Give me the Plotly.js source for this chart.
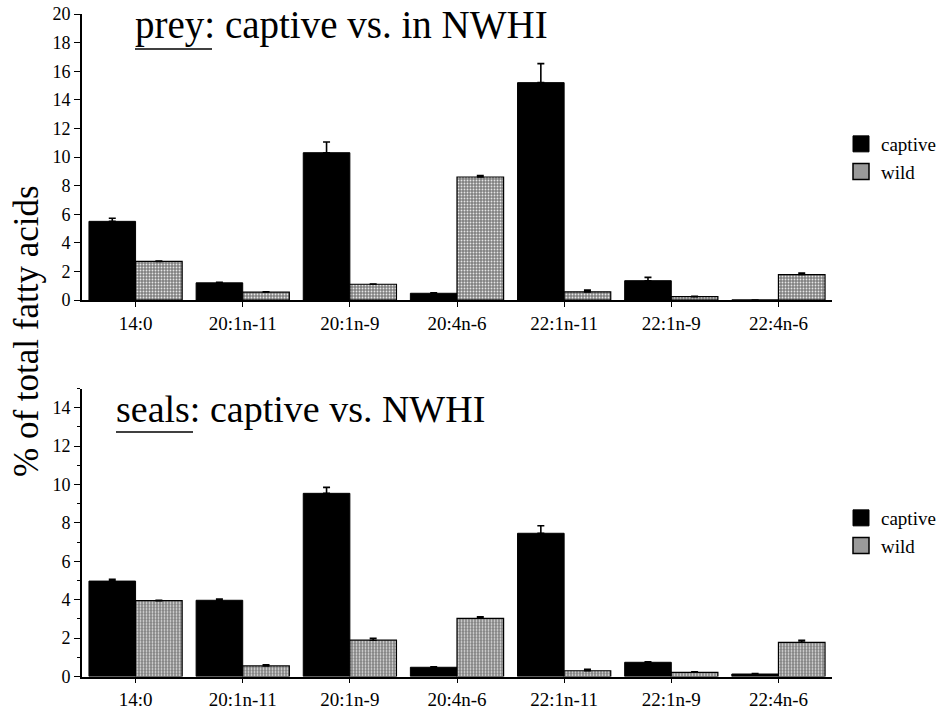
<!DOCTYPE html>
<html>
<head>
<meta charset="utf-8">
<script src="https://cdn.plot.ly/plotly-3.0.1.min.js"></script>
<style>
  html, body { margin: 0; padding: 0; background: #fff; }
  #chart { width: 938px; height: 711px; }
</style>
</head>
<body>
<div id="chart"></div>
<script>
// Fatty acid categories shown on both panels
const acids = ['14:0', '20:1n-11', '20:1n-9', '20:4n-6', '22:1n-11', '22:1n-9', '22:4n-6'];

// Prey: % of total fatty acids (mean and SE)
const preyCaptive    = [5.5, 1.2, 10.3, 0.47, 15.2, 1.35, 0];
const preyCaptiveErr = [0.22, 0.03, 0.75, 0.03, 1.33, 0.23, 0];
const preyWild       = [2.7, 0.55, 1.1, 8.6, 0.57, 0.23, 1.78];
const preyWildErr    = [0.02, 0.02, 0.02, 0.1, 0.12, 0.03, 0.1];

// Seals: % of total fatty acids (mean and SE)
const sealCaptive    = [4.97, 3.97, 9.54, 0.48, 7.46, 0.74, 0.13];
const sealCaptiveErr = [0.09, 0.07, 0.31, 0.02, 0.39, 0.02, 0.02];
const sealWild       = [3.95, 0.55, 1.89, 3.03, 0.3, 0.22, 1.78];
const sealWildErr    = [0.02, 0.06, 0.1, 0.08, 0.07, 0.02, 0.1];

const SERIF = '"Liberation Serif", "Times New Roman", Times, serif';
const W = 938, H = 711;
const px = v => v / W;          // horizontal pixel -> paper
const py = v => 1 - v / H;      // vertical pixel -> paper

const captiveMarker = { color: '#000000', line: { color: '#000000', width: 1 } };
// grey stipple: mid-grey base with fine light dots laid over it
const wildMarker = {
  color: '#808080',
  line: { color: '#000000', width: 1.2 },
  pattern: { shape: '.', fillmode: 'overlay', fgcolor: '#ffffff', fgopacity: 0.8, size: 3, solidity: 0.3 }
};
const errStyle = (arr) => ({
  type: 'data', array: arr, symmetric: false,
  arrayminus: arr.map(() => 0),
  color: '#000000', thickness: 1.6, width: 3.5
});

function barPair(cap, capErr, wild, wildErr, xa, ya) {
  return [
    { type: 'bar', name: 'captive', x: acids, y: cap, error_y: errStyle(capErr),
      marker: captiveMarker, xaxis: xa, yaxis: ya, showlegend: false },
    { type: 'bar', name: 'wild', x: acids, y: wild, error_y: errStyle(wildErr),
      marker: wildMarker, xaxis: xa, yaxis: ya, showlegend: false }
  ];
}

// Legend swatches (one legend per panel)
function legendEntries(legendId, xa, ya) {
  return [
    { type: 'scatter', mode: 'markers', name: 'captive', x: [null], y: [null],
      xaxis: xa, yaxis: ya, legend: legendId,
      marker: { symbol: 'square', size: 16, color: '#000000', line: { color: '#000000', width: 1 } } },
    { type: 'scatter', mode: 'markers', name: 'wild', x: [null], y: [null],
      xaxis: xa, yaxis: ya, legend: legendId,
      marker: { symbol: 'square', size: 16, color: '#9a9a9a', line: { color: '#000000', width: 1.5 } } }
  ];
}

const data = [
  ...barPair(preyCaptive, preyCaptiveErr, preyWild, preyWildErr, 'x', 'y'),
  ...barPair(sealCaptive, sealCaptiveErr, sealWild, sealWildErr, 'x2', 'y2'),
  ...legendEntries('legend', 'x', 'y'),
  ...legendEntries('legend2', 'x2', 'y2')
];

const xBase = {
  type: 'category', categoryorder: 'array', categoryarray: acids,
  range: [-0.5, 6.5], domain: [px(82), px(832)],
  showline: true, linecolor: '#000', linewidth: 1.6, mirror: false,
  ticks: 'outside', ticklen: 5, tickwidth: 1.2, tickcolor: '#000',
  showgrid: false, zeroline: false, fixedrange: true,
  tickfont: { family: SERIF, size: 19, color: '#000' }
};
const yBase = {
  showline: true, linecolor: '#000', linewidth: 2,
  ticks: 'outside', ticklen: 6, tickwidth: 1.2, tickcolor: '#000',
  showgrid: false, zeroline: false, fixedrange: true,
  tickfont: { family: SERIF, size: 18, color: '#000' }
};

const legendBase = {
  font: { family: SERIF, size: 19, color: '#000' },
  bgcolor: 'rgba(0,0,0,0)', borderwidth: 0,
  xanchor: 'left', yanchor: 'top', itemsizing: 'trace',
  tracegroupgap: 0, itemclick: false, itemdoubleclick: false
};

const layout = {
  width: W, height: H,
  margin: { l: 0, r: 0, t: 0, b: 0, autoexpand: false },
  paper_bgcolor: '#ffffff', plot_bgcolor: 'rgba(0,0,0,0)',
  barmode: 'group', bargap: 0.13, bargroupgap: 0,
  font: { family: SERIF, color: '#000' },
  xaxis:  { ...xBase, anchor: 'y' },
  xaxis2: { ...xBase, anchor: 'y2' },
  yaxis:  { ...yBase, anchor: 'x', domain: [py(300), py(14)], range: [0, 20], dtick: 2 },
  yaxis2: { ...yBase, anchor: 'x2', domain: [py(676.5), py(388.5)], range: [0, 15], dtick: 2,
            minor: { ticks: 'outside', dtick: 1, ticklen: 3, tickcolor: '#000', tickwidth: 1 } },
  legend:  { ...legendBase, x: px(841), y: py(125) },
  legend2: { ...legendBase, x: px(841), y: py(499) },
  annotations: [
    { text: '% of total fatty acids', textangle: -90, xref: 'paper', yref: 'paper',
      x: px(27), y: py(331), xanchor: 'center', yanchor: 'middle', showarrow: false,
      font: { family: SERIF, size: 35, color: '#000' } },
    { text: 'prey: captive vs. in NWHI', xref: 'paper', yref: 'paper',
      x: px(133), y: py(25), xanchor: 'left', yanchor: 'middle', showarrow: false,
      font: { family: SERIF, size: 39, color: '#000' } },
    { text: 'seals: captive vs. NWHI', xref: 'paper', yref: 'paper',
      x: px(114), y: py(409), xanchor: 'left', yanchor: 'middle', showarrow: false,
      font: { family: SERIF, size: 38, color: '#000' } }
  ],
  shapes: [
    // underlines under the panel names
    { type: 'line', xref: 'paper', yref: 'paper', x0: px(135), x1: px(212), y0: py(49), y1: py(49),
      line: { color: '#000', width: 1.3 } },
    { type: 'line', xref: 'paper', yref: 'paper', x0: px(116), x1: px(193), y0: py(432), y1: py(432),
      line: { color: '#000', width: 1.3 } }
  ]
};

Plotly.newPlot('chart', data, layout, { displayModeBar: false, staticPlot: false, responsive: false });
</script>
</body>
</html>
